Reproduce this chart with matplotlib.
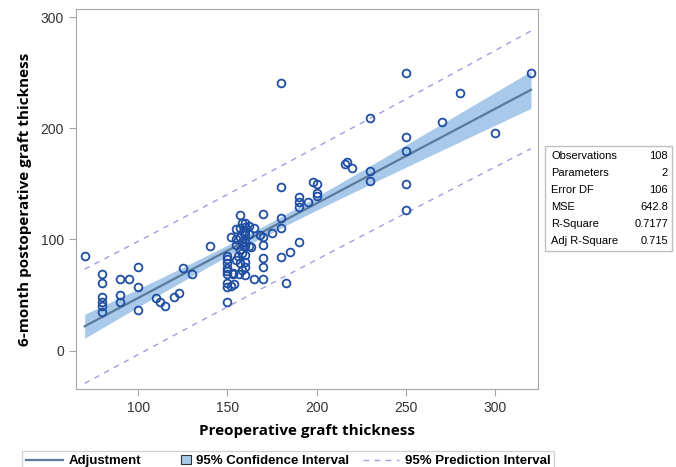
import numpy as np
import matplotlib
matplotlib.use("Agg")
import matplotlib.pyplot as plt
from matplotlib.lines import Line2D
from matplotlib.patches import Rectangle, Patch
from matplotlib.legend_handler import HandlerPatch

# preoperative / 6-month graft thickness
pre = [70, 80, 80, 80, 80, 80, 80, 90, 95, 90, 90, 100, 100, 100, 110, 112, 115,
       120, 123, 125, 130, 140, 150, 150, 150, 150, 150, 150, 150, 150, 152, 152,
       153.5, 153, 155, 155, 155, 156.5, 157, 157, 157, 157, 157, 158, 159, 159,
       160, 160, 160, 160, 160, 160, 160, 160, 162, 163, 165, 165, 168, 170, 170,
       170, 170, 170, 170, 175, 180, 180, 180, 180, 180, 183, 185, 190, 190, 190,
       190, 195, 198, 200, 200, 200, 216, 217, 220, 230, 230, 230, 250, 250, 250,
       250, 250, 270, 280, 300, 320,
       155, 158, 160, 162, 158, 156, 160, 153, 150, 158, 162]
post = [85, 69, 60.5, 48.5, 44, 40, 35, 64, 64, 50, 44, 75, 57.5, 36.5, 47.5, 44, 40.5,
        48, 52, 74, 69, 94, 85, 82, 78.5, 74, 69, 60.5, 57, 44, 102, 58,
        60, 69, 109, 95, 81.5, 69, 122, 110.5, 102, 90.5, 78.5, 72.5, 105.5, 94,
        115, 111.5, 108, 104, 94, 86, 80, 68, 94, 93.5, 64, 110, 104, 64, 123,
        102, 95, 83.5, 75, 106, 241, 147.5, 119.5, 110, 84.5, 61, 89, 138.5, 134, 129,
        97.5, 134, 152, 150, 141.5, 139.5, 168, 169.5, 164, 209, 161.5, 153, 250, 192, 180,
        149.5, 126.5, 206, 232, 196, 250,
        100, 98, 98, 105, 88, 85, 75, 70, 72, 115, 112]

stat_names = ["Observations", "Parameters", "Error DF", "MSE", "R-Square", "Adj R-Square"]
stat_values = ["108", "2", "106", "642.8", "0.7177", "0.715"]
mse = 642.8
t_crit = 1.983

x = np.array(pre, dtype=float)
y = np.array(post, dtype=float)
n = len(x)
slope, intercept = np.polyfit(x, y, 1)
xbar = x.mean()
sxx = ((x - xbar) ** 2).sum()

xs = np.linspace(70, 320, 200)
fit = intercept + slope * xs
ci = t_crit * np.sqrt(mse * (1 / n + (xs - xbar) ** 2 / sxx))
pi = t_crit * np.sqrt(mse * (1 + 1 / n + (xs - xbar) ** 2 / sxx))

band_col = "#a9c9ea"
line_col = "#5b7a99"
pred_col = "#9e9ee6"


def square_patch(legend, orig_handle, xdescent, ydescent, width, height, fontsize):
    # small square at the right end of the handle box, like the SAS legend
    s = height * 1.05
    return Rectangle((-xdescent + width - s, -ydescent + (height - s) / 2), s, s)


fig = plt.figure(figsize=(6.76, 4.67), dpi=100)
ax = fig.add_axes([0.112, 0.166, 0.684, 0.814])

ax.fill_between(xs, fit - ci, fit + ci, color=band_col, lw=0, zorder=1)
ax.plot(xs, fit, color=line_col, lw=1.6, zorder=2)
ax.plot(xs, fit + pi, color=pred_col, lw=1.0, ls=(0, (4, 4)), zorder=2)
ax.plot(xs, fit - pi, color=pred_col, lw=1.0, ls=(0, (4, 4)), zorder=2)
ax.plot(x, y, ls="none", marker="o", ms=5.6, mfc="none", mec="#1f4ea3", mew=1.3, zorder=3)

ax.set_xlim(65, 324)
ax.set_ylim(-35, 307)
ax.set_xticks([100, 150, 200, 250, 300])
ax.set_yticks([0, 100, 200, 300])
for s in ax.spines.values():
    s.set_color("#a6a6a6")
ax.tick_params(colors="#a6a6a6", labelcolor="#333333", labelsize=10, length=5)
for lab in ax.get_xticklabels() + ax.get_yticklabels():
    lab.set_family("Liberation Sans")

ax.set_xlabel("Preoperative graft thickness", fontsize=11, fontweight="bold",
              family="Open Sans", labelpad=6)
ax.set_ylabel("6-month postoperative graft thickness", fontsize=11, fontweight="bold",
              family="Open Sans", labelpad=6)

# fit statistics box
fig.patches.append(Rectangle((545 / 676, 1 - 251 / 467), 127 / 676, 105 / 467,
                             transform=fig.transFigure, fill=False, ec="#c0c0c0", lw=1))
for i, (nm, val) in enumerate(zip(stat_names, stat_values)):
    yy = 1 - (156 + i * 17) / 467
    fig.text(551 / 676, yy, nm, fontsize=8, family="Liberation Sans", va="center")
    fig.text(668 / 676, yy, val, fontsize=8, family="Liberation Sans", va="center", ha="right")

ci_handle = Patch(fc=band_col, ec="#333333", lw=0.8)
handles = [Line2D([], [], color=line_col, lw=1.6),
           ci_handle,
           Line2D([], [], color=pred_col, lw=1.0, ls=(0, (4, 4)))]
labels = ["Adjustment", "95% Confidence Interval", "95% Prediction Interval"]
leg = fig.legend(handles, labels, loc="upper left", bbox_to_anchor=(22 / 676, 1 - 451 / 467),
                 ncol=3, frameon=True, fancybox=False, edgecolor="#c8c8c8",
                 prop={"family": "Liberation Sans", "weight": "bold", "size": 9.5},
                 handlelength=2.8, handletextpad=0.4, columnspacing=1.0,
                 borderpad=0.3, borderaxespad=0,
                 handler_map={ci_handle: HandlerPatch(patch_func=square_patch)})
leg.get_frame().set_linewidth(1)

fig.savefig("out.png", dpi=100)
